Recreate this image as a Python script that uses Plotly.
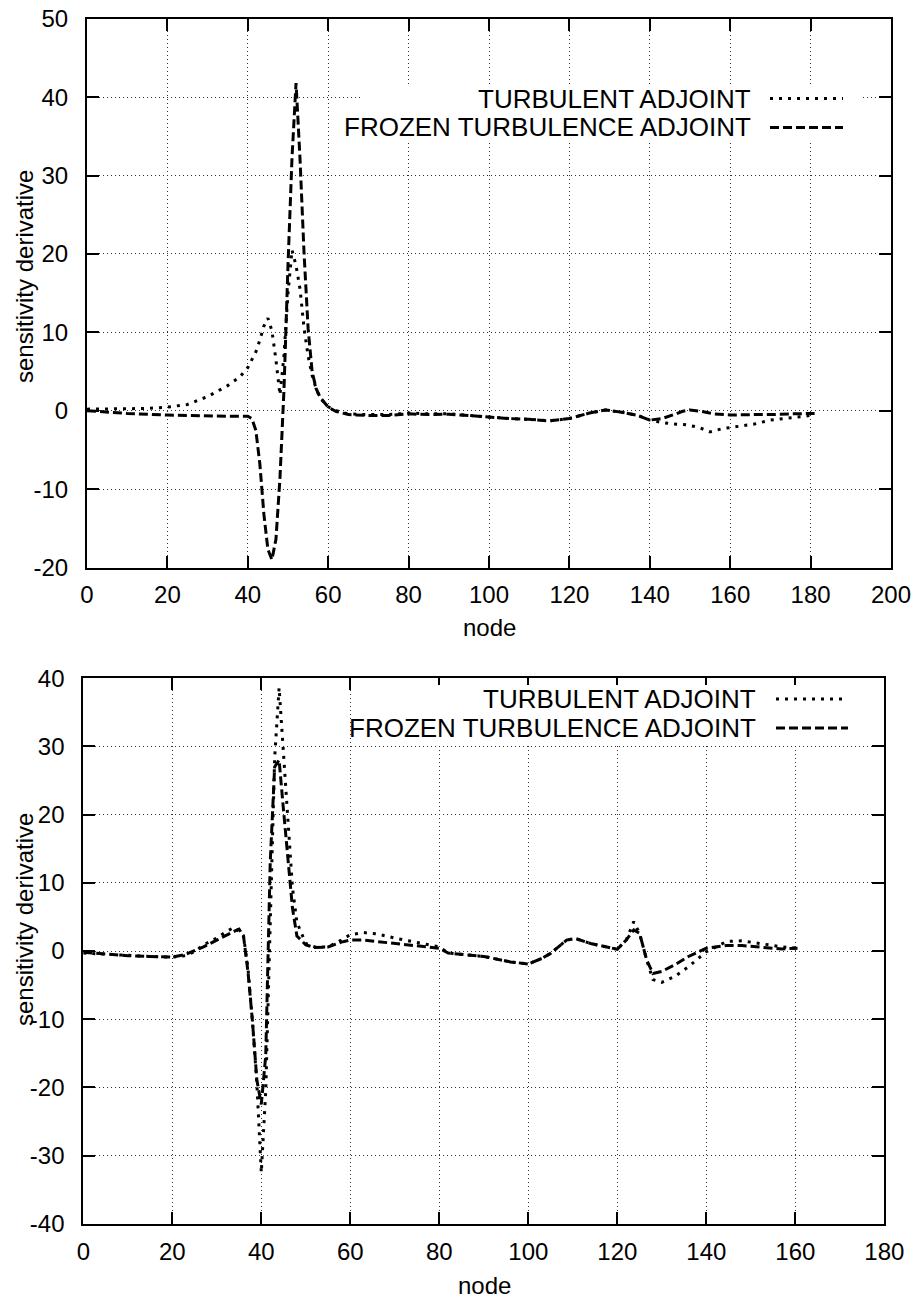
import plotly.graph_objects as go

# ---------------- data: top panel ----------------
top_turb_x = [0, 5, 10, 15, 20, 25, 30, 35, 38, 40, 42, 43, 44, 45, 46, 47, 48, 49, 50, 51,
              52, 53, 54, 55, 56, 57, 58, 60, 62, 65, 70, 75, 80, 85, 90, 95, 100, 105, 110,
              115, 120, 125, 129, 133, 137, 140, 143, 146, 149, 152, 155, 158, 162, 166, 170,
              175, 181]
top_turb_y = [0.2, 0.2, 0.25, 0.3, 0.45, 0.8, 1.8, 3.2, 4.3, 5.5, 7.5, 9.0, 10.8, 11.8, 10.2,
              6.5, 2.0, 7.0, 15.0, 20.5, 18.5, 15.5, 10.5, 7.0, 4.5, 2.8, 1.6, 0.5, 0.0, -0.4,
              -0.5, -0.5, -0.3, -0.4, -0.4, -0.6, -0.8, -1.0, -1.1, -1.3, -1.0, -0.3, 0.1,
              -0.2, -0.6, -1.2, -1.5, -1.7, -1.8, -2.1, -2.7, -2.3, -2.0, -1.7, -1.2, -0.9,
              -0.55]

top_froz_x = [0, 5, 10, 20, 30, 35, 40, 41, 42, 43, 44, 45, 46, 47, 48, 49, 50, 51, 52, 53,
              54, 55, 56, 57, 58, 60, 62, 65, 70, 75, 80, 85, 90, 95, 100, 105, 110, 115, 120,
              125, 129, 133, 137, 140, 143, 146, 148, 150, 153, 156, 160, 165, 170, 175, 181]
top_froz_y = [0.0, -0.2, -0.35, -0.55, -0.7, -0.7, -0.7, -1.0, -2.5, -6.8, -13.2, -17.7,
              -19.0, -16.4, -8.6, 2.7, 18.6, 32.3, 41.8, 32.0, 20.0, 10.5, 5.0, 2.8, 1.7,
              0.45, -0.1, -0.5, -0.6, -0.6, -0.4, -0.5, -0.45, -0.6, -0.8, -1.0, -1.1, -1.3,
              -1.0, -0.3, 0.1, -0.2, -0.6, -1.2, -1.0, -0.5, -0.1, 0.1, -0.1, -0.4, -0.55,
              -0.5, -0.5, -0.4, -0.35]

# ---------------- data: bottom panel ----------------
bot_x = [0, 5, 10, 15, 20, 23, 25, 27, 30, 32, 34, 35, 36, 37, 38, 39, 40, 41, 42, 43, 44,
         45, 46, 47, 48, 50, 52, 55, 58, 60, 63, 66, 70, 75, 80, 82, 85, 90, 96, 100, 103,
         105, 108.6, 110.5, 114, 117.6, 120, 122, 123.7, 125, 126.6, 128, 130, 133, 136,
         140, 144.6, 148, 153.5, 157, 160.5]
bot_turb_y = [-0.3, -0.5, -0.7, -0.8, -0.9, -0.7, -0.1, 0.9, 1.9, 2.8, 3.5, 2.9, 2.2, -2.5,
              -10.2, -19.4, -32.5, -20.5, 5.2, 28.3, 38.6, 28.3, 18.0, 9.3, 4.2, 1.1, 0.6,
              0.6, 1.6, 2.4, 2.7, 2.5, 1.9, 1.3, 0.6, -0.3, -0.5, -0.8, -1.6, -1.9, -1.1,
              -0.35, 1.6, 1.85, 1.1, 0.6, 0.25, 1.6, 4.3, 2.6, -1.3, -4.2, -4.6, -3.7, -2.3,
              -0.1, 1.4, 1.5, 1.0, 0.6, 0.4]
bot_froz_y = [-0.2, -0.5, -0.7, -0.8, -0.9, -0.5, 0.0, 0.6, 1.6, 2.3, 2.9, 3.2, 2.2, -3.0,
              -10.2, -18.9, -22.5, -15.3, 12.9, 27.0, 28.0, 20.6, 12.9, 6.3, 2.2, 0.9, 0.5,
              0.6, 1.3, 1.6, 1.6, 1.4, 1.1, 0.8, 0.4, -0.3, -0.5, -0.8, -1.6, -1.9, -1.1,
              -0.35, 1.6, 1.85, 1.1, 0.6, 0.25, 1.6, 3.1, 2.6, -1.3, -3.3, -3.0, -2.0, -0.8,
              0.4, 0.8, 0.8, 0.5, 0.3, 0.4]

series_names = ["TURBULENT ADJOINT", "FROZEN TURBULENCE ADJOINT"]
top_xticks = list(range(0, 201, 20))
top_yticks = list(range(-20, 51, 10))
bot_xticks = list(range(0, 181, 20))
bot_yticks = list(range(-40, 41, 10))
x_title = "node"
y_title = "sensitivity derivative"

# ---------------- styling ----------------
OFF = 8                      # default page margin of the html body
W, H = 921 - OFF, 1304 - OFF
FONT = "Liberation Sans, Arial, sans-serif"
DOT = "3px,6px"
DASH = "9px,4px"
LW = 3


def px(x):
    return (x - OFF) / W


def py(y):
    return 1 - (y - OFF) / H


def labels(vals):
    return [str(v) for v in vals]  # plain hyphen minus, as in the original


fig = go.Figure()
fig.add_trace(go.Scatter(x=top_turb_x, y=top_turb_y, mode="lines", name=series_names[0],
                         line=dict(color="black", width=LW, dash=DOT), xaxis="x", yaxis="y"))
fig.add_trace(go.Scatter(x=top_froz_x, y=top_froz_y, mode="lines", name=series_names[1],
                         line=dict(color="black", width=LW, dash=DASH), xaxis="x", yaxis="y"))
fig.add_trace(go.Scatter(x=bot_x, y=bot_turb_y, mode="lines", name=series_names[0],
                         line=dict(color="black", width=LW, dash=DOT), xaxis="x2", yaxis="y2"))
fig.add_trace(go.Scatter(x=bot_x, y=bot_froz_y, mode="lines", name=series_names[1],
                         line=dict(color="black", width=LW, dash=DASH), xaxis="x2", yaxis="y2"))

axis_common = dict(
    showline=True, linewidth=2, linecolor="black", mirror="ticks",
    ticks="inside", ticklen=12, tickwidth=1.5, tickcolor="black",
    showgrid=True, gridcolor="#333", gridwidth=1, griddash="1px,3px",
    zeroline=False, tickfont=dict(family=FONT, size=24, color="black"),
    fixedrange=True, automargin=False, tickmode="array", ticklabeloverflow="allow",
)

fig.update_layout(
    width=W, height=H, margin=dict(l=0, r=0, t=0, b=0, autoexpand=False),
    paper_bgcolor="white", plot_bgcolor="white", showlegend=False,
    xaxis=dict(domain=[px(87), px(891)], range=[0, 200], tickvals=top_xticks,
               ticktext=labels(top_xticks), anchor="y", ticklabelstandoff=5, **axis_common),
    yaxis=dict(domain=[py(567.5), py(18.7)], range=[-20, 50], tickvals=top_yticks,
               ticktext=labels(top_yticks), anchor="x", ticklabelstandoff=12, **axis_common),
    xaxis2=dict(domain=[px(83.3), px(884.3)], range=[0, 180], tickvals=bot_xticks,
                ticktext=labels(bot_xticks), anchor="y2", ticklabelstandoff=5, **axis_common),
    yaxis2=dict(domain=[py(1223.8), py(678.2)], range=[-40, 40], tickvals=bot_yticks,
                ticktext=labels(bot_yticks), anchor="x2", ticklabelstandoff=12, **axis_common),
)

# axis titles
ann = []
ann.append(dict(x=px(489), y=py(627), xref="paper", yref="paper", text=x_title,
                showarrow=False, font=dict(family=FONT, size=24, color="black"),
                xanchor="center", yanchor="middle"))
ann.append(dict(x=px(484), y=py(1285), xref="paper", yref="paper", text=x_title,
                showarrow=False, font=dict(family=FONT, size=24, color="black"),
                xanchor="center", yanchor="middle"))
ann.append(dict(x=px(24), y=py(277), xref="paper", yref="paper", text=y_title,
                showarrow=False, textangle=-90, font=dict(family=FONT, size=24, color="black"),
                xanchor="center", yanchor="middle"))
ann.append(dict(x=px(24), y=py(920), xref="paper", yref="paper", text=y_title,
                showarrow=False, textangle=-90, font=dict(family=FONT, size=24, color="black"),
                xanchor="center", yanchor="middle"))

shapes = []
# key boxes (opaque, hide grid) and legend entries
keys = [
    # box x0, x1, y0, y1, text right, rows y, sample x0, x1
    (362, 862, 84, 143, 752, (98.5, 127.5), 770, 843),
    (352, 856, 685, 745, 757, (699, 728), 776, 848),
]
for bx0, bx1, by0, by1, tx, rows, sx0, sx1 in keys:
    shapes.append(dict(type="rect", xref="paper", yref="paper",
                       x0=px(bx0), x1=px(bx1), y0=py(by1), y1=py(by0),
                       fillcolor="white", line=dict(width=0), layer="above"))
    for name, ry, dsh in zip(series_names, rows, [DOT, DASH]):
        ann.append(dict(x=px(tx), y=py(ry), xref="paper", yref="paper", text=name,
                        showarrow=False, font=dict(family=FONT, size=26, color="black"),
                        xanchor="right", yanchor="middle", borderpad=0))
        shapes.append(dict(type="line", xref="paper", yref="paper",
                           x0=px(sx0), x1=px(sx1), y0=py(ry), y1=py(ry),
                           line=dict(color="black", width=LW, dash=dsh), layer="above"))

fig.update_layout(annotations=ann, shapes=shapes)
fig.write_html("out.html")
